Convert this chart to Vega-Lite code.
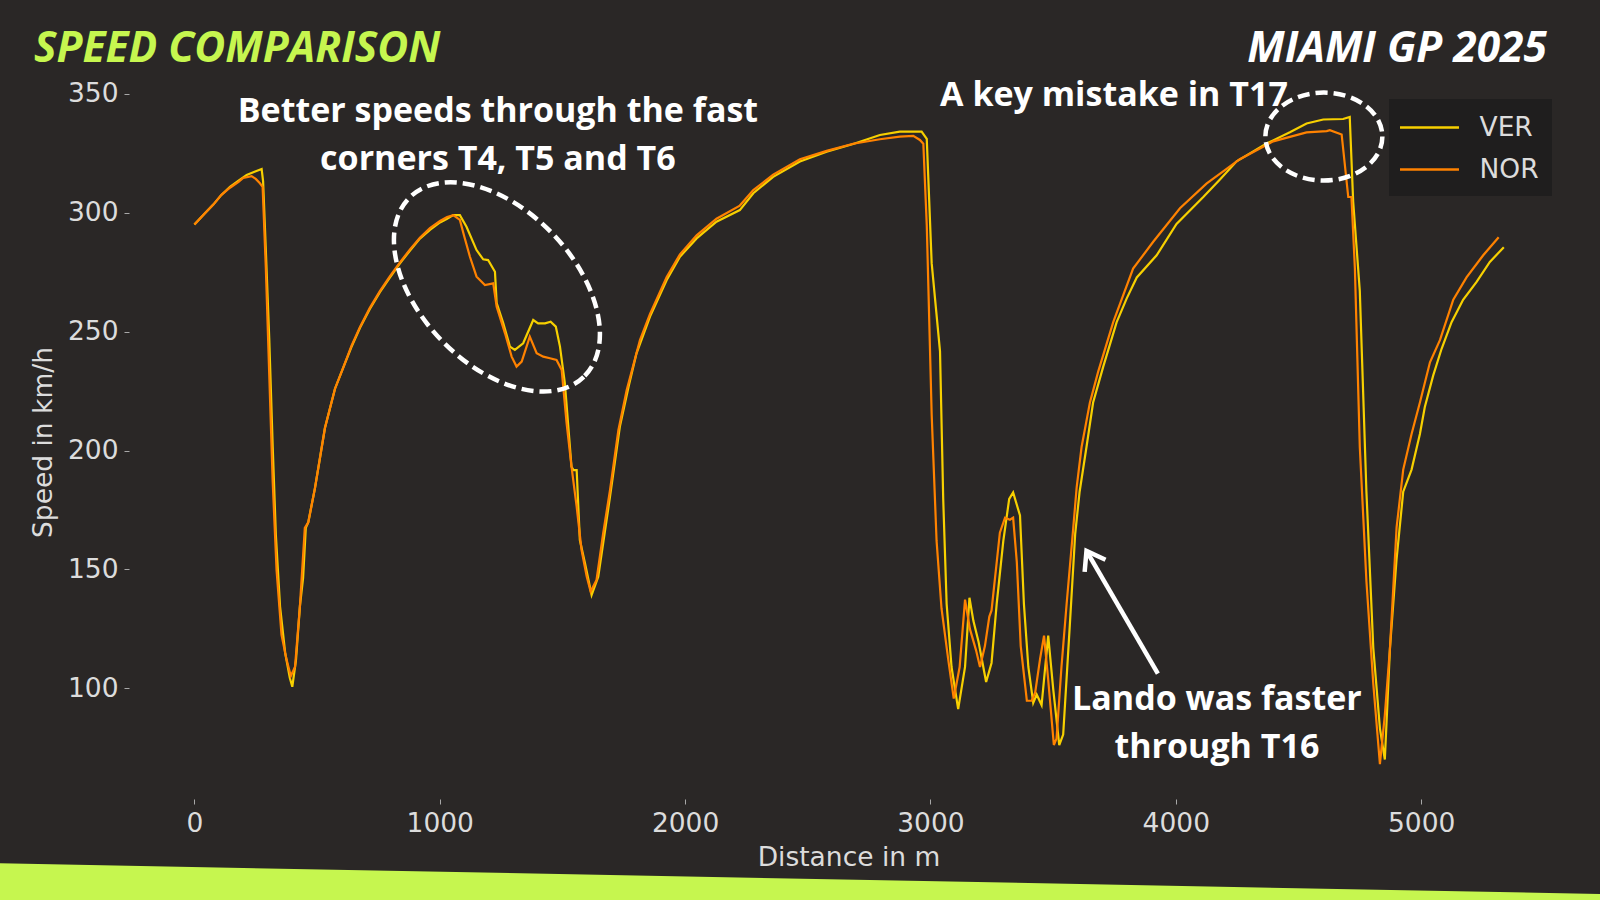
{
  "$schema": "https://vega.github.io/schema/vega-lite/v6.json",
  "width": 1439,
  "height": 714,
  "autosize": {"type": "none"},
  "padding": {"left": 129, "top": 85, "right": 32, "bottom": 101},
  "background": "#2a2726",
  "config": {"view": {"stroke": null}, "font": "DejaVu Sans"},
  "layer": [
    {
      "data": {"values": [{}]},
      "mark": {"type": "rule", "color": "#c6f64f", "strokeWidth": 60, "strokeCap": "butt"},
      "encoding": {
        "x": {"datum": -874, "type": "quantitative"},
        "y": {"datum": 14.0, "type": "quantitative"},
        "x2": {"datum": 5810},
        "y2": {"datum": 0.8}
      }
    },
    {
      "data": {"values": [
        {"driver":"VER","distance":0,"speed":295},{"driver":"VER","distance":40,"speed":299.5},{"driver":"VER","distance":77,"speed":303.4},{"driver":"VER","distance":110,"speed":307.5},{"driver":"VER","distance":145,"speed":310.9},{"driver":"VER","distance":180,"speed":313.5},{"driver":"VER","distance":213,"speed":315.9},{"driver":"VER","distance":245,"speed":317.2},{"driver":"VER","distance":274,"speed":318.4},{"driver":"VER","distance":280,"speed":313.2},{"driver":"VER","distance":291,"speed":284.6},{"driver":"VER","distance":305,"speed":247.1},{"driver":"VER","distance":319,"speed":202},{"driver":"VER","distance":332,"speed":164.5},{"driver":"VER","distance":349,"speed":134.5},{"driver":"VER","distance":370,"speed":114.9},{"driver":"VER","distance":389,"speed":104.4},{"driver":"VER","distance":399,"speed":100.7},{"driver":"VER","distance":414,"speed":111.9},{"driver":"VER","distance":430,"speed":134.5},{"driver":"VER","distance":443,"speed":146.5},{"driver":"VER","distance":454,"speed":167.5},{"driver":"VER","distance":464,"speed":169.8},{"driver":"VER","distance":491,"speed":184},{"driver":"VER","distance":532,"speed":209.5},{"driver":"VER","distance":573,"speed":226},{"driver":"VER","distance":607,"speed":235},{"driver":"VER","distance":640,"speed":243.5},{"driver":"VER","distance":675,"speed":251.6},{"driver":"VER","distance":715,"speed":259.5},{"driver":"VER","distance":756,"speed":266.6},{"driver":"VER","distance":795,"speed":272.5},{"driver":"VER","distance":837,"speed":278.6},{"driver":"VER","distance":878,"speed":284},{"driver":"VER","distance":919,"speed":289.1},{"driver":"VER","distance":960,"speed":292.8},{"driver":"VER","distance":1001,"speed":295.9},{"driver":"VER","distance":1030,"speed":297.5},{"driver":"VER","distance":1055,"speed":299},{"driver":"VER","distance":1082,"speed":299},{"driver":"VER","distance":1109,"speed":294.1},{"driver":"VER","distance":1150,"speed":284.3},{"driver":"VER","distance":1177,"speed":280.4},{"driver":"VER","distance":1197,"speed":280.1},{"driver":"VER","distance":1225,"speed":275.2},{"driver":"VER","distance":1232,"speed":262},{"driver":"VER","distance":1259,"speed":253.5},{"driver":"VER","distance":1286,"speed":243.7},{"driver":"VER","distance":1306,"speed":242.3},{"driver":"VER","distance":1340,"speed":245.1},{"driver":"VER","distance":1381,"speed":254.9},{"driver":"VER","distance":1401,"speed":253.5},{"driver":"VER","distance":1429,"speed":253.5},{"driver":"VER","distance":1452,"speed":254.2},{"driver":"VER","distance":1473,"speed":252.1},{"driver":"VER","distance":1490,"speed":243.7},{"driver":"VER","distance":1510,"speed":228.3},{"driver":"VER","distance":1537,"speed":193.2},{"driver":"VER","distance":1545,"speed":191.8},{"driver":"VER","distance":1558,"speed":191.8},{"driver":"VER","distance":1571,"speed":162.4},{"driver":"VER","distance":1592,"speed":152.6},{"driver":"VER","distance":1619,"speed":139.3},{"driver":"VER","distance":1646,"speed":147},{"driver":"VER","distance":1666,"speed":161},{"driver":"VER","distance":1694,"speed":180.6},{"driver":"VER","distance":1734,"speed":210},{"driver":"VER","distance":1770,"speed":227},{"driver":"VER","distance":1802,"speed":240.9},{"driver":"VER","distance":1857,"speed":256.3},{"driver":"VER","distance":1925,"speed":271.7},{"driver":"VER","distance":1979,"speed":281.5},{"driver":"VER","distance":2047,"speed":289.2},{"driver":"VER","distance":2128,"speed":296.2},{"driver":"VER","distance":2223,"speed":301.1},{"driver":"VER","distance":2278,"speed":308.2},{"driver":"VER","distance":2359,"speed":315.1},{"driver":"VER","distance":2468,"speed":321.5},{"driver":"VER","distance":2577,"speed":325.7},{"driver":"VER","distance":2685,"speed":328.9},{"driver":"VER","distance":2794,"speed":332.7},{"driver":"VER","distance":2875,"speed":334.1},{"driver":"VER","distance":2964,"speed":334.1},{"driver":"VER","distance":2985,"speed":331},{"driver":"VER","distance":3005,"speed":278.8},{"driver":"VER","distance":3039,"speed":241.7},{"driver":"VER","distance":3052,"speed":179.7},{"driver":"VER","distance":3066,"speed":135.5},{"driver":"VER","distance":3086,"speed":109},{"driver":"VER","distance":3113,"speed":91.3},{"driver":"VER","distance":3141,"speed":109},{"driver":"VER","distance":3159,"speed":138.1},{"driver":"VER","distance":3175,"speed":128.4},{"driver":"VER","distance":3196,"speed":119.6},{"driver":"VER","distance":3227,"speed":102.7},{"driver":"VER","distance":3249,"speed":110.7},{"driver":"VER","distance":3270,"speed":135.5},{"driver":"VER","distance":3297,"speed":162},{"driver":"VER","distance":3321,"speed":179.7},{"driver":"VER","distance":3337,"speed":182.4},{"driver":"VER","distance":3365,"speed":172.7},{"driver":"VER","distance":3381,"speed":135.5},{"driver":"VER","distance":3399,"speed":109},{"driver":"VER","distance":3419,"speed":93.9},{"driver":"VER","distance":3433,"speed":97.4},{"driver":"VER","distance":3453,"speed":93},{"driver":"VER","distance":3480,"speed":122.2},{"driver":"VER","distance":3500,"speed":100.1},{"driver":"VER","distance":3525,"speed":76.2},{"driver":"VER","distance":3541,"speed":80.6},{"driver":"VER","distance":3568,"speed":126.5},{"driver":"VER","distance":3590,"speed":165},{"driver":"VER","distance":3608,"speed":182.7},{"driver":"VER","distance":3636,"speed":201.5},{"driver":"VER","distance":3663,"speed":220.2},{"driver":"VER","distance":3704,"speed":235.2},{"driver":"VER","distance":3759,"speed":254},{"driver":"VER","distance":3800,"speed":264},{"driver":"VER","distance":3841,"speed":272.8},{"driver":"VER","distance":3922,"speed":282.1},{"driver":"VER","distance":4003,"speed":295.3},{"driver":"VER","distance":4112,"speed":306.6},{"driver":"VER","distance":4180,"speed":314},{"driver":"VER","distance":4248,"speed":321.6},{"driver":"VER","distance":4370,"speed":329.1},{"driver":"VER","distance":4465,"speed":333.8},{"driver":"VER","distance":4533,"speed":337.5},{"driver":"VER","distance":4601,"speed":339.2},{"driver":"VER","distance":4682,"speed":339.4},{"driver":"VER","distance":4709,"speed":340.3},{"driver":"VER","distance":4723,"speed":304.7},{"driver":"VER","distance":4750,"speed":267.1},{"driver":"VER","distance":4777,"speed":182.7},{"driver":"VER","distance":4805,"speed":117},{"driver":"VER","distance":4832,"speed":83.2},{"driver":"VER","distance":4852,"speed":70.1},{"driver":"VER","distance":4873,"speed":117},{"driver":"VER","distance":4900,"speed":154.5},{"driver":"VER","distance":4927,"speed":182.7},{"driver":"VER","distance":4961,"speed":192},{"driver":"VER","distance":4995,"speed":207},{"driver":"VER","distance":5015,"speed":218.3},{"driver":"VER","distance":5049,"speed":231.5},{"driver":"VER","distance":5083,"speed":242.7},{"driver":"VER","distance":5124,"speed":254},{"driver":"VER","distance":5171,"speed":263.4},{"driver":"VER","distance":5226,"speed":270.9},{"driver":"VER","distance":5280,"speed":279.3},{"driver":"VER","distance":5337,"speed":285.5},
        {"driver":"NOR","distance":0,"speed":295},{"driver":"NOR","distance":40,"speed":299.5},{"driver":"NOR","distance":77,"speed":303.4},{"driver":"NOR","distance":110,"speed":307.5},{"driver":"NOR","distance":145,"speed":310.5},{"driver":"NOR","distance":180,"speed":313},{"driver":"NOR","distance":199,"speed":314.6},{"driver":"NOR","distance":233,"speed":315.4},{"driver":"NOR","distance":250,"speed":314.2},{"driver":"NOR","distance":267,"speed":312.4},{"driver":"NOR","distance":278,"speed":310.9},{"driver":"NOR","distance":291,"speed":277.1},{"driver":"NOR","distance":305,"speed":232},{"driver":"NOR","distance":319,"speed":187},{"driver":"NOR","distance":335,"speed":149.5},{"driver":"NOR","distance":355,"speed":122.5},{"driver":"NOR","distance":376,"speed":111.9},{"driver":"NOR","distance":393,"speed":105.2},{"driver":"NOR","distance":410,"speed":109},{"driver":"NOR","distance":430,"speed":134.5},{"driver":"NOR","distance":450,"speed":167.5},{"driver":"NOR","distance":464,"speed":169.8},{"driver":"NOR","distance":491,"speed":184},{"driver":"NOR","distance":532,"speed":209.5},{"driver":"NOR","distance":573,"speed":226},{"driver":"NOR","distance":607,"speed":235},{"driver":"NOR","distance":640,"speed":244},{"driver":"NOR","distance":675,"speed":252},{"driver":"NOR","distance":715,"speed":260},{"driver":"NOR","distance":756,"speed":267},{"driver":"NOR","distance":795,"speed":273},{"driver":"NOR","distance":837,"speed":279},{"driver":"NOR","distance":878,"speed":284.5},{"driver":"NOR","distance":919,"speed":289.5},{"driver":"NOR","distance":960,"speed":293.5},{"driver":"NOR","distance":1001,"speed":296.5},{"driver":"NOR","distance":1030,"speed":298.2},{"driver":"NOR","distance":1055,"speed":299},{"driver":"NOR","distance":1082,"speed":297},{"driver":"NOR","distance":1100,"speed":290},{"driver":"NOR","distance":1123,"speed":281.5},{"driver":"NOR","distance":1150,"speed":273.1},{"driver":"NOR","distance":1184,"speed":269.6},{"driver":"NOR","distance":1218,"speed":270.3},{"driver":"NOR","distance":1232,"speed":260.5},{"driver":"NOR","distance":1266,"speed":249.3},{"driver":"NOR","distance":1293,"speed":239.5},{"driver":"NOR","distance":1313,"speed":235.3},{"driver":"NOR","distance":1334,"speed":237.4},{"driver":"NOR","distance":1367,"speed":247.9},{"driver":"NOR","distance":1395,"speed":240.9},{"driver":"NOR","distance":1422,"speed":239.5},{"driver":"NOR","distance":1449,"speed":238.8},{"driver":"NOR","distance":1476,"speed":238.1},{"driver":"NOR","distance":1497,"speed":233.9},{"driver":"NOR","distance":1517,"speed":211.5},{"driver":"NOR","distance":1537,"speed":193.2},{"driver":"NOR","distance":1558,"speed":176.4},{"driver":"NOR","distance":1578,"speed":158.2},{"driver":"NOR","distance":1599,"speed":147},{"driver":"NOR","distance":1615,"speed":140.7},{"driver":"NOR","distance":1639,"speed":145.6},{"driver":"NOR","distance":1666,"speed":165.2},{"driver":"NOR","distance":1694,"speed":183.4},{"driver":"NOR","distance":1728,"speed":208.6},{"driver":"NOR","distance":1762,"speed":225.5},{"driver":"NOR","distance":1816,"speed":246.5},{"driver":"NOR","distance":1857,"speed":257.5},{"driver":"NOR","distance":1925,"speed":273},{"driver":"NOR","distance":1979,"speed":282.5},{"driver":"NOR","distance":2047,"speed":290.5},{"driver":"NOR","distance":2128,"speed":297.5},{"driver":"NOR","distance":2223,"speed":303},{"driver":"NOR","distance":2278,"speed":309.5},{"driver":"NOR","distance":2359,"speed":316},{"driver":"NOR","distance":2468,"speed":322.5},{"driver":"NOR","distance":2577,"speed":326},{"driver":"NOR","distance":2685,"speed":329},{"driver":"NOR","distance":2794,"speed":330.9},{"driver":"NOR","distance":2875,"speed":332},{"driver":"NOR","distance":2930,"speed":332.3},{"driver":"NOR","distance":2957,"speed":330.6},{"driver":"NOR","distance":2971,"speed":329},{"driver":"NOR","distance":2985,"speed":294.8},{"driver":"NOR","distance":3005,"speed":215.1},{"driver":"NOR","distance":3025,"speed":162},{"driver":"NOR","distance":3045,"speed":133.7},{"driver":"NOR","distance":3072,"speed":112.5},{"driver":"NOR","distance":3095,"speed":95.7},{"driver":"NOR","distance":3119,"speed":109},{"driver":"NOR","distance":3141,"speed":137.3},{"driver":"NOR","distance":3161,"speed":124.9},{"driver":"NOR","distance":3186,"speed":116},{"driver":"NOR","distance":3202,"speed":109},{"driver":"NOR","distance":3222,"speed":117.8},{"driver":"NOR","distance":3240,"speed":130.2},{"driver":"NOR","distance":3249,"speed":132.8},{"driver":"NOR","distance":3283,"speed":165.5},{"driver":"NOR","distance":3304,"speed":171.8},{"driver":"NOR","distance":3324,"speed":170.9},{"driver":"NOR","distance":3337,"speed":171.8},{"driver":"NOR","distance":3352,"speed":153.2},{"driver":"NOR","distance":3368,"speed":117.8},{"driver":"NOR","distance":3393,"speed":94.8},{"driver":"NOR","distance":3413,"speed":94.8},{"driver":"NOR","distance":3427,"speed":98.3},{"driver":"NOR","distance":3447,"speed":112.5},{"driver":"NOR","distance":3463,"speed":122.2},{"driver":"NOR","distance":3480,"speed":103.6},{"driver":"NOR","distance":3503,"speed":76.2},{"driver":"NOR","distance":3514,"speed":78.9},{"driver":"NOR","distance":3534,"speed":109},{"driver":"NOR","distance":3555,"speed":135.5},{"driver":"NOR","distance":3582,"speed":167.4},{"driver":"NOR","distance":3596,"speed":184.5},{"driver":"NOR","distance":3616,"speed":201.5},{"driver":"NOR","distance":3650,"speed":220.2},{"driver":"NOR","distance":3684,"speed":233.3},{"driver":"NOR","distance":3745,"speed":254},{"driver":"NOR","distance":3826,"speed":276.5},{"driver":"NOR","distance":3908,"speed":287.8},{"driver":"NOR","distance":4017,"speed":301.9},{"driver":"NOR","distance":4125,"speed":312.2},{"driver":"NOR","distance":4261,"speed":322.5},{"driver":"NOR","distance":4397,"speed":330},{"driver":"NOR","distance":4465,"speed":331.9},{"driver":"NOR","distance":4533,"speed":333.8},{"driver":"NOR","distance":4615,"speed":334.3},{"driver":"NOR","distance":4628,"speed":334.7},{"driver":"NOR","distance":4676,"speed":332.9},{"driver":"NOR","distance":4703,"speed":306.6},{"driver":"NOR","distance":4716,"speed":306.6},{"driver":"NOR","distance":4730,"speed":276.5},{"driver":"NOR","distance":4750,"speed":201.5},{"driver":"NOR","distance":4777,"speed":145.1},{"driver":"NOR","distance":4805,"speed":101.9},{"driver":"NOR","distance":4832,"speed":68.2},{"driver":"NOR","distance":4852,"speed":88.8},{"driver":"NOR","distance":4873,"speed":117},{"driver":"NOR","distance":4900,"speed":167.7},{"driver":"NOR","distance":4927,"speed":192},{"driver":"NOR","distance":4961,"speed":207},{"driver":"NOR","distance":4995,"speed":220.2},{"driver":"NOR","distance":5036,"speed":237.1},{"driver":"NOR","distance":5077,"speed":246.5},{"driver":"NOR","distance":5131,"speed":263.4},{"driver":"NOR","distance":5185,"speed":272.8},{"driver":"NOR","distance":5253,"speed":282.1},{"driver":"NOR","distance":5316,"speed":289.7}
      ]},
      "mark": {"type": "line", "strokeWidth": 2.2},
      "encoding": {
        "x": {
          "field": "distance", "type": "quantitative",
          "scale": {"domain": [-266.6, 5598.6], "nice": false, "zero": false},
          "axis": {
            "title": "Distance in m", "values": [0, 1000, 2000, 3000, 4000, 5000], "format": "d",
            "labelFont": "DejaVu Sans", "labelFontSize": 26.5, "labelColor": "#dcdcdc",
            "titleFont": "DejaVu Sans", "titleFontSize": 26.5, "titleFontWeight": "normal", "titleColor": "#dcdcdc",
            "domain": false, "grid": false, "tickColor": "#a8a8a8", "tickSize": 5, "tickWidth": 1,
            "labelPadding": 6, "titlePadding": 8, "labelFlush": false
          }
        },
        "y": {
          "field": "speed", "type": "quantitative",
          "scale": {"domain": [53.5, 353.7], "nice": false, "zero": false},
          "axis": {
            "title": "Speed in km/h", "values": [100, 150, 200, 250, 300, 350], "format": "d",
            "labelFont": "DejaVu Sans", "labelFontSize": 26.5, "labelColor": "#dcdcdc",
            "titleFont": "DejaVu Sans", "titleFontSize": 26.5, "titleFontWeight": "normal", "titleColor": "#dcdcdc",
            "domain": false, "grid": false, "tickColor": "#a8a8a8", "tickSize": 5, "tickWidth": 1,
            "labelPadding": 6, "titlePadding": 10, "labelFlush": false
          }
        },
        "color": {
          "field": "driver", "type": "nominal",
          "scale": {"domain": ["VER", "NOR"], "range": ["#f7d000", "#ff8200"]},
          "legend": {
            "title": null, "orient": "none", "legendX": 1260, "legendY": 14, "direction": "vertical",
            "symbolType": "M -2 0 L 2 0", "symbolSize": 870, "symbolStrokeWidth": 2.5, "symbolOffset": 12,
            "labelFont": "DejaVu Sans", "labelFontSize": 26.5, "labelColor": "#dcdcdc", "labelOffset": 34,
            "fillColor": "#1f1e1e", "padding": 12.5, "rowPadding": 12, "cornerRadius": 0
          }
        }
      }
    },
    {
      "data": {"values": [{}]},
      "mark": {"type": "point", "shape": "M 1 0 C 1 0.34 0.5523 0.616 0 0.616 C -0.5523 0.616 -1 0.34 -1 0 C -1 -0.34 -0.5523 -0.616 0 -0.616 C 0.5523 -0.616 1 -0.34 1 0 Z", "size": 62500, "angle": 46, "filled": false, "stroke": "#ffffff", "strokeWidth": 4.5, "strokeDash": [12, 6], "opacity": 1},
      "encoding": {"x": {"datum": 1233, "type": "quantitative"}, "y": {"datum": 268.8, "type": "quantitative"}}
    },
    {
      "data": {"values": [{}]},
      "mark": {"type": "point", "shape": "M 1 0 C 1 0.415 0.5523 0.752 0 0.752 C -0.5523 0.752 -1 0.415 -1 0 C -1 -0.415 -0.5523 -0.752 0 -0.752 C 0.5523 -0.752 1 -0.415 1 0 Z", "size": 13689, "filled": false, "stroke": "#ffffff", "strokeWidth": 4.5, "strokeDash": [12, 6], "opacity": 1},
      "encoding": {"x": {"datum": 4603.6, "type": "quantitative"}, "y": {"datum": 332, "type": "quantitative"}}
    },
    {
      "data": {"values": [{}]},
      "mark": {"type": "rule", "color": "#ffffff", "strokeWidth": 4.5},
      "encoding": {
        "x": {"datum": 3927, "type": "quantitative"}, "y": {"datum": 106.2, "type": "quantitative"},
        "x2": {"datum": 3636}, "y2": {"datum": 157.8}
      }
    },
    {
      "data": {"values": [{}]},
      "mark": {"type": "point", "shape": "M -0.574 0.819 L 0 0 L 0.574 0.819", "size": 1764, "angle": 330, "filled": false, "stroke": "#ffffff", "strokeWidth": 4.5, "opacity": 1},
      "encoding": {"x": {"datum": 3636, "type": "quantitative"}, "y": {"datum": 157.8, "type": "quantitative"}}
    },
    {
      "data": {"values": [{}]},
      "mark": {"type": "text", "text": ["Better speeds through the fast", "corners T4, T5 and T6"], "font": "Open Sans", "fontWeight": "bold", "fontSize": 34, "color": "#ffffff", "align": "center", "baseline": "middle", "lineHeight": 48},
      "encoding": {"x": {"datum": 1237, "type": "quantitative"}, "y": {"datum": 342.3, "type": "quantitative"}}
    },
    {
      "data": {"values": [{}]},
      "mark": {"type": "text", "text": "A key mistake in T17", "font": "Open Sans", "fontWeight": "bold", "fontSize": 34, "color": "#ffffff", "align": "center", "baseline": "middle"},
      "encoding": {"x": {"datum": 3748, "type": "quantitative"}, "y": {"datum": 349.1, "type": "quantitative"}}
    },
    {
      "data": {"values": [{}]},
      "mark": {"type": "text", "text": ["Lando was faster", "through T16"], "font": "Open Sans", "fontWeight": "bold", "fontSize": 34, "color": "#ffffff", "align": "center", "baseline": "middle", "lineHeight": 48},
      "encoding": {"x": {"datum": 4167.6, "type": "quantitative"}, "y": {"datum": 95, "type": "quantitative"}}
    },
    {
      "data": {"values": [{}]},
      "mark": {"type": "text", "text": "SPEED COMPARISON", "font": "Open Sans", "fontWeight": "bold", "fontStyle": "italic", "fontSize": 42.5, "color": "#c6f64f", "align": "left", "baseline": "alphabetic"},
      "encoding": {"x": {"datum": -654, "type": "quantitative"}, "y": {"datum": 363.4, "type": "quantitative"}}
    },
    {
      "data": {"values": [{}]},
      "mark": {"type": "text", "text": "MIAMI GP 2025", "font": "Open Sans", "fontWeight": "bold", "fontStyle": "italic", "fontSize": 42.5, "color": "#ffffff", "align": "right", "baseline": "alphabetic"},
      "encoding": {"x": {"datum": 5512.5, "type": "quantitative"}, "y": {"datum": 363.4, "type": "quantitative"}}
    }
  ]
}
